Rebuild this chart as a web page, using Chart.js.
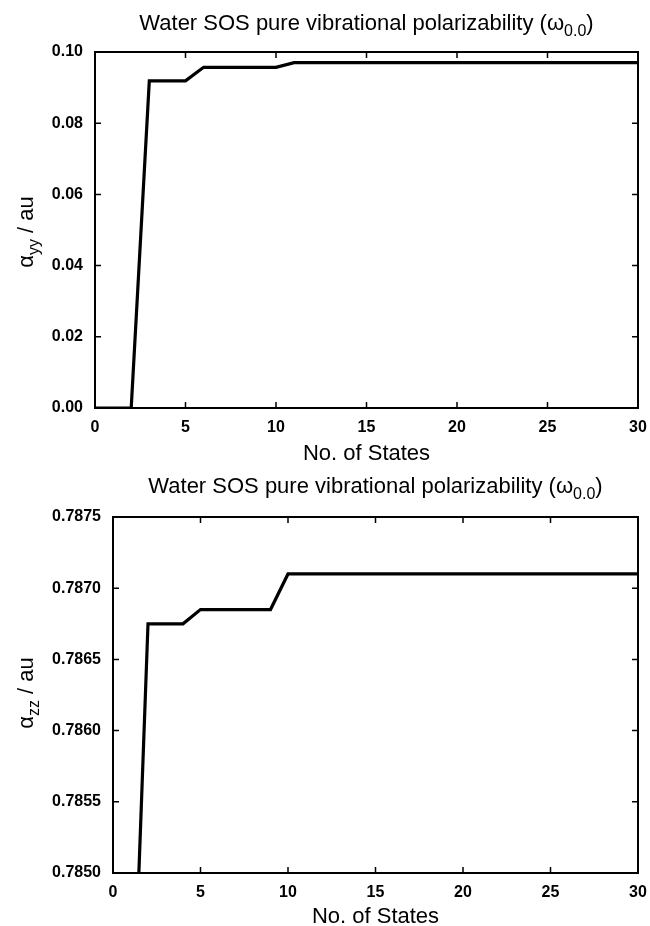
<!DOCTYPE html>
<html>
<head>
<meta charset="utf-8">
<script src="https://cdn.jsdelivr.net/npm/chart.js@4.4.1/dist/chart.umd.min.js"></script>
<style>
body { margin: 0; background: #fff; }
.box { position: absolute; left: 0; width: 650px; height: 463px; }
</style>
</head>
<body>
<div class="box" style="top:0"><canvas id="yyChart" width="650" height="463"></canvas></div>
<div class="box" style="top:463px"><canvas id="zzChart" width="650" height="463"></canvas></div>
<script>
// Data
const statesYY = [0, 1, 2, 3, 4, 5, 6, 7, 8, 9, 10, 11, 12, 13, 14, 15, 16, 17, 18, 19, 20, 21, 22, 23, 24, 25, 26, 27, 28, 29, 30];
const alphaYY = [0, 0, 0, 0.0919, 0.0919, 0.0919, 0.0957, 0.0957, 0.0957, 0.0957, 0.0957,
                 0.0970, 0.0970, 0.0970, 0.0970, 0.0970, 0.0970, 0.0970, 0.0970, 0.0970, 0.0970,
                 0.0970, 0.0970, 0.0970, 0.0970, 0.0970, 0.0970, 0.0970, 0.0970, 0.0970, 0.0970];

const statesZZ = [1, 2, 3, 4, 5, 6, 7, 8, 9, 10, 11, 12, 13, 14, 15, 16, 17, 18, 19, 20, 21, 22, 23, 24, 25, 26, 27, 28, 29, 30];
const alphaZZ = [0.7834, 0.78675, 0.78675, 0.78675, 0.78685, 0.78685, 0.78685, 0.78685, 0.78685,
                 0.78710, 0.78710, 0.78710, 0.78710, 0.78710, 0.78710, 0.78710, 0.78710, 0.78710,
                 0.78710, 0.78710, 0.78710, 0.78710, 0.78710, 0.78710, 0.78710, 0.78710, 0.78710,
                 0.78710, 0.78710, 0.78710];

const xTicks = [0, 5, 10, 15, 20, 25, 30];
const yyTicks = [0, 0.02, 0.04, 0.06, 0.08, 0.10];
const zzTicks = [0.7850, 0.7855, 0.7860, 0.7865, 0.7870, 0.7875];

const FONT = "'Liberation Sans', Arial, Helvetica, sans-serif";

// draw text made of [text, isSubscript] parts, centred on cx
function drawRich(ctx, parts, cx, baseY, size, subSize) {
    let widths = parts.map(p => {
        ctx.font = (p[1] ? subSize : size) + 'px ' + FONT;
        return ctx.measureText(p[0]).width;
    });
    let x = cx - widths.reduce((a, b) => a + b, 0) / 2;
    parts.forEach((p, i) => {
        ctx.font = (p[1] ? subSize : size) + 'px ' + FONT;
        ctx.fillText(p[0], x, p[1] ? baseY + size * 0.28 : baseY);
        x += widths[i];
    });
}

// frame, inward ticks on four sides, titles
const framePlugin = {
    id: 'frame',
    afterDatasetsDraw(chart, args, opts) {
        const ctx = chart.ctx, a = chart.chartArea;
        const xs = chart.scales.x, ys = chart.scales.y;
        ctx.save();
        ctx.strokeStyle = '#000';
        ctx.lineWidth = 1.5;
        ctx.beginPath();
        xs.ticks.forEach(t => {
            let px = xs.getPixelForValue(t.value);
            ctx.moveTo(px, a.bottom); ctx.lineTo(px, a.bottom - 6);
            ctx.moveTo(px, a.top); ctx.lineTo(px, a.top + 6);
        });
        ys.ticks.forEach(t => {
            let py = ys.getPixelForValue(t.value);
            ctx.moveTo(a.left, py); ctx.lineTo(a.left + 6, py);
            ctx.moveTo(a.right, py); ctx.lineTo(a.right - 6, py);
        });
        ctx.stroke();
        ctx.lineWidth = 2;
        ctx.strokeRect(a.left, a.top, a.width, a.height);

        ctx.fillStyle = '#000';
        ctx.textBaseline = 'alphabetic';
        ctx.textAlign = 'left';
        let cx = (a.left + a.right) / 2;
        drawRich(ctx, opts.title, cx, opts.titleY, 22, 16);
        drawRich(ctx, [['No. of States', false]], cx, opts.xLabelY, 22, 16);

        ctx.translate(opts.yLabelX, opts.yLabelCY);
        ctx.rotate(-Math.PI / 2);
        drawRich(ctx, opts.yLabel, 0, 0, 22, 16);
        ctx.restore();
    }
};

function makeChart(id, xs, ys, ticksY, yMin, yMax, digits, yWidth, xHeight, padTop, plug) {
    return new Chart(document.getElementById(id), {
        type: 'line',
        data: {
            datasets: [{
                data: xs.map((x, i) => ({x: x, y: ys[i]})),
                borderColor: '#000',
                borderWidth: 3.2,
                pointRadius: 0,
                tension: 0,
                fill: false
            }]
        },
        options: {
            responsive: false,
            animation: false,
            events: [],
            layout: { padding: { left: 0, top: padTop, right: 12, bottom: 0 } },
            plugins: { legend: { display: false }, tooltip: { enabled: false }, frame: plug },
            scales: {
                x: {
                    type: 'linear', min: 0, max: 30,
                    grid: { display: false, drawTicks: false },
                    border: { display: false },
                    afterBuildTicks: s => { s.ticks = xTicks.map(v => ({value: v})); },
                    afterFit: s => { s.height = xHeight; s.paddingRight = 0; s.paddingLeft = 0; },
                    ticks: { color: '#000', padding: 10, maxRotation: 0,
                             font: { family: FONT, size: 16, weight: 'bold' },
                             callback: v => String(v) }
                },
                y: {
                    type: 'linear', min: yMin, max: yMax,
                    grid: { display: false, drawTicks: false },
                    border: { display: false },
                    afterBuildTicks: s => { s.ticks = ticksY.map(v => ({value: v})); },
                    afterFit: s => { s.width = yWidth; },
                    ticks: { color: '#000', padding: 12,
                             font: { family: FONT, size: 16, weight: 'bold' },
                             callback: v => Number(v).toFixed(digits) }
                }
            }
        },
        plugins: [framePlugin]
    });
}

makeChart('yyChart', statesYY, alphaYY, yyTicks, 0, 0.1, 2, 95, 55, 52, {
    title: [['Water SOS pure vibrational polarizability (\u03c9', false], ['0.0', true], [')', false]],
    titleY: 30, xLabelY: 460,
    yLabel: [['\u03b1', false], ['yy', true], [' / au', false]],
    yLabelX: 33, yLabelCY: 232
});

makeChart('zzChart', statesZZ, alphaZZ, zzTicks, 0.785, 0.7875, 4, 113, 53, 54, {
    title: [['Water SOS pure vibrational polarizability (\u03c9', false], ['0.0', true], [')', false]],
    titleY: 30, xLabelY: 460,
    yLabel: [['\u03b1', false], ['zz', true], [' / au', false]],
    yLabelX: 33, yLabelCY: 230
});
</script>
</body>
</html>
